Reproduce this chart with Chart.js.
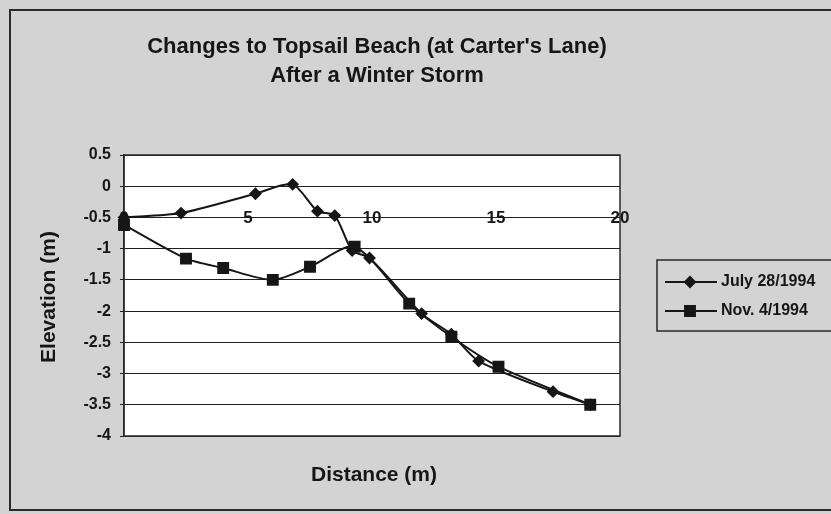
<!DOCTYPE html>
<html>
<head>
<meta charset="utf-8">
<script src="https://cdn.jsdelivr.net/npm/chart.js@4/dist/chart.umd.min.js"></script>
<style>
html,body{margin:0;padding:0;background:#d3d3d3;}
#wrap{width:831px;height:514px;position:relative;}
</style>
</head>
<body>
<div id="wrap"><canvas id="c" width="831" height="514"></canvas></div>
<script>
// ---- data ----
const titleLines = ["Changes to Topsail Beach (at Carter's Lane)", "After a Winter Storm"];
const xTitle = "Distance (m)";
const yTitle = "Elevation (m)";
const seriesNames = ["July 28/1994", "Nov. 4/1994"];

const julyX = [0, 2.3, 5.3, 6.8, 7.8, 8.5, 9.2, 9.9, 12.0, 13.2, 14.3, 17.3, 18.8];
const julyY = [-0.5, -0.43, -0.12, 0.03, -0.4, -0.47, -1.03, -1.15, -2.04, -2.37, -2.8, -3.29, -3.5];
const novX = [0, 2.5, 4.0, 6.0, 7.5, 9.3, 11.5, 13.2, 15.1, 18.8];
const novY = [-0.62, -1.16, -1.31, -1.5, -1.29, -0.97, -1.88, -2.41, -2.89, -3.5];

const xTicks = [0, 5, 10, 15, 20];
const yTicks = [0.5, 0, -0.5, -1, -1.5, -2, -2.5, -3, -3.5, -4];

const pts = (xs, ys) => xs.map((x, i) => ({x: x, y: ys[i]}));
const INK = '#161616';
const FONT = "'Liberation Sans', Arial, sans-serif";

const decor = {
  id: 'decor',
  beforeDraw(chart) {
    const ctx = chart.ctx, a = chart.chartArea;
    ctx.save();
    ctx.fillStyle = '#d3d3d3';
    ctx.fillRect(0, 0, chart.width, chart.height);
    ctx.strokeStyle = '#2a2a2a';
    ctx.lineWidth = 2;
    ctx.strokeRect(10, 10, chart.width + 20, chart.height - 14);
    ctx.fillStyle = '#ffffff';
    ctx.fillRect(a.left, a.top, a.right - a.left, a.bottom - a.top);
    ctx.restore();
  },
  beforeDatasetsDraw(chart) {
    const ctx = chart.ctx, a = chart.chartArea;
    ctx.save();
    ctx.strokeStyle = '#2a2a2a';
    ctx.lineWidth = 1.5;
    ctx.strokeRect(a.left, a.top, a.right - a.left, a.bottom - a.top);
    ctx.restore();
  },
  afterDraw(chart) {
    const ctx = chart.ctx;
    ctx.save();
    ctx.fillStyle = INK;
    ctx.font = "bold 22px " + FONT;
    ctx.textAlign = 'center';
    ctx.textBaseline = 'middle';
    ctx.fillText(titleLines[0], 377, 47);
    ctx.fillText(titleLines[1], 377, 76);
    ctx.font = "bold 21px " + FONT;
    ctx.fillText(xTitle, 374, 475);
    ctx.save();
    ctx.translate(49, 297);
    ctx.rotate(-Math.PI / 2);
    ctx.fillText(yTitle, 0, 0);
    ctx.restore();
    const lx = 657, ly = 260, lw = 200, lh = 71;
    ctx.strokeStyle = '#2a2a2a';
    ctx.lineWidth = 1.5;
    ctx.strokeRect(lx, ly, lw, lh);
    const rows = [282, 311];
    chart.data.datasets.forEach((ds, i) => {
      const y = rows[i];
      ctx.strokeStyle = ds.borderColor;
      ctx.lineWidth = ds.borderWidth;
      ctx.beginPath();
      ctx.moveTo(665, y);
      ctx.lineTo(717, y);
      ctx.stroke();
      Chart.helpers.drawPoint(ctx, {pointStyle: ds.pointStyle, radius: ds.pointRadius, borderWidth: 1}, 690, y);
      ctx.fillStyle = ds.pointBackgroundColor;
      ctx.fill();
      ctx.fillStyle = INK;
      ctx.font = "bold 16px " + FONT;
      ctx.textAlign = 'left';
      ctx.fillText(ds.label, 721, y);
    });
    ctx.restore();
  }
};

new Chart(document.getElementById('c'), {
  type: 'line',
  data: {
    datasets: [
      {label: seriesNames[0], data: pts(julyX, julyY), borderColor: INK, backgroundColor: INK,
       pointBackgroundColor: INK, pointBorderColor: INK, borderWidth: 2, pointStyle: 'rectRot',
       pointRadius: 5, tension: 0.25, fill: false, clip: false},
      {label: seriesNames[1], data: pts(novX, novY), borderColor: INK, backgroundColor: INK,
       pointBackgroundColor: INK, pointBorderColor: INK, borderWidth: 2, pointStyle: 'rect',
       pointRadius: 7, tension: 0.25, fill: false, clip: false}
    ]
  },
  options: {
    responsive: false,
    animation: false,
    events: [],
    layout: {padding: {left: 10, right: 211, top: 155, bottom: 78}},
    plugins: {legend: {display: false}, title: {display: false}, tooltip: {enabled: false}},
    scales: {
      x: {
        type: 'linear',
        position: {y: -0.5},
        min: 0, max: 20,
        afterBuildTicks(s) { s.ticks = xTicks.map(v => ({value: v})); },
        grid: {display: false, drawTicks: false},
        border: {display: false},
        ticks: {color: INK, font: {family: FONT, size: 17, weight: 'bold'}, padding: -9, maxRotation: 0,
                callback: v => String(v)}
      },
      y: {
        type: 'linear',
        position: 'left',
        min: -4, max: 0.5,
        afterBuildTicks(s) { s.ticks = yTicks.map(v => ({value: v})); },
        afterFit(s) { s.width = 114; },
        grid: {color: '#1e1e1e', lineWidth: 1, drawTicks: true, tickLength: 4, tickColor: '#1e1e1e'},
        border: {display: true, color: '#1e1e1e', width: 1.5},
        ticks: {color: INK, font: {family: FONT, size: 16, weight: 'bold'}, padding: 9,
                callback: v => String(v)}
      }
    }
  },
  plugins: [decor]
});
</script>
</body>
</html>
